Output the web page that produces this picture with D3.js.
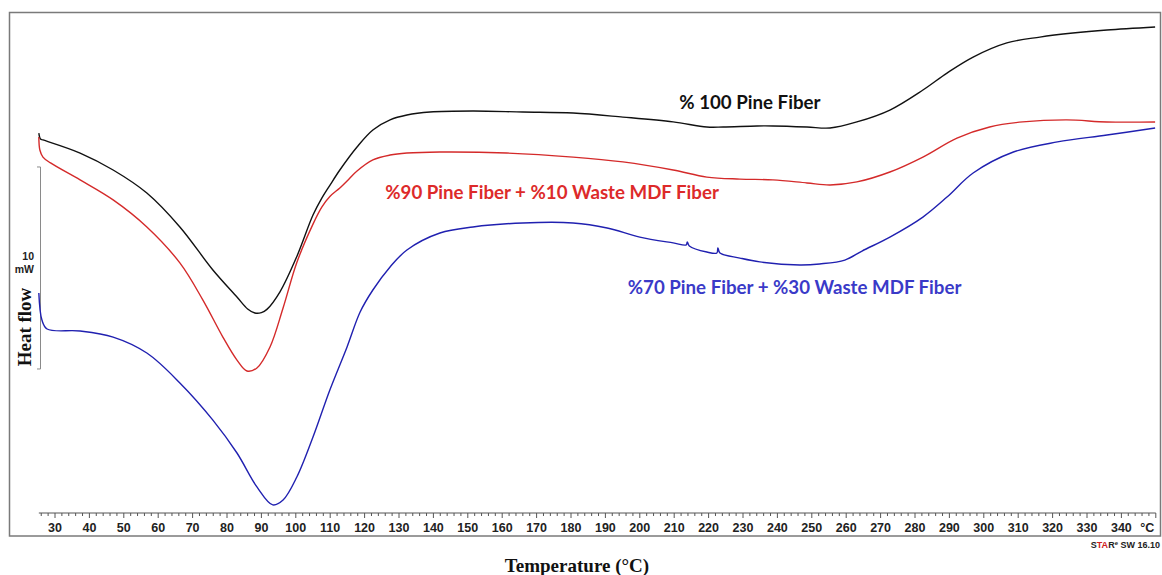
<!DOCTYPE html>
<html>
<head>
<meta charset="utf-8">
<script src="https://cdn.jsdelivr.net/npm/d3@7"></script>
<style>
  body { margin: 0; background: #fff; }
  svg { display: block; }
</style>
</head>
<body>
<div id="chart"></div>
<script>
// DSC curves, heat flow in mW (offset baselines as in the instrument plot)
var pineTemp = [25.3, 25.8, 26.5, 37.3, 46.9, 56.7, 66.3, 75.9, 82.9, 86.0, 88.1, 90.0, 91.6, 95.4, 100.3, 105.0, 107.6, 109.9, 112.8, 117.8, 122.4, 127.4, 132.3, 139.0, 151.5, 166.0, 180.6, 195.1, 209.7, 219.5, 224.2, 234.1, 238.7, 248.6, 255.3, 263.1, 272.7, 282.3, 289.3, 296.9, 306.7, 316.3, 325.9, 335.8, 349.8];
var pineFlow = [18.81, 18.51, 18.47, 17.82, 16.98, 15.84, 14.16, 12.03, 10.69, 10.10, 9.90, 9.92, 10.08, 10.95, 12.70, 14.75, 15.60, 16.22, 16.98, 18.12, 18.96, 19.46, 19.70, 19.85, 19.90, 19.85, 19.80, 19.60, 19.36, 19.11, 19.11, 19.16, 19.16, 19.11, 19.06, 19.36, 19.95, 20.94, 21.78, 22.57, 23.27, 23.56, 23.76, 23.91, 24.06];

var mix90Temp = [25.3, 25.6, 26.5, 28.7, 37.3, 46.9, 56.7, 66.3, 73.0, 78.8, 82.9, 85.8, 88.7, 92.5, 96.3, 100.3, 105.0, 107.6, 109.9, 112.8, 114.9, 117.8, 122.4, 127.4, 132.3, 141.9, 161.3, 180.6, 195.1, 209.7, 219.5, 229.1, 238.7, 248.6, 255.3, 263.1, 272.7, 282.3, 292.2, 301.7, 311.3, 324.1, 335.8, 349.8];
var mix90Flow = [18.61, 17.97, 17.62, 17.33, 16.49, 15.50, 14.16, 12.38, 10.54, 8.71, 7.57, 7.03, 7.18, 8.22, 10.15, 12.40, 14.30, 15.15, 15.67, 16.09, 16.44, 16.93, 17.48, 17.72, 17.82, 17.87, 17.82, 17.62, 17.38, 16.98, 16.63, 16.53, 16.49, 16.34, 16.24, 16.39, 16.88, 17.62, 18.56, 19.11, 19.36, 19.46, 19.36, 19.36];

var mix70Temp = [25.3, 26.2, 27.7, 37.3, 46.9, 56.7, 66.3, 75.9, 82.9, 88.7, 93.3, 96.3, 100.3, 105.0, 109.9, 114.9, 118.7, 122.4, 127.4, 132.3, 141.9, 151.5, 166.0, 180.6, 190.5, 200.0, 209.7, 213.5, 213.8, 214.4, 219.5, 222.4, 222.7, 223.3, 229.1, 234.9, 246.5, 252.3, 259.6, 264.6, 272.7, 282.3, 289.3, 296.9, 308.6, 321.4, 335.8, 349.8];
var mix70Flow = [10.89, 9.55, 9.11, 9.01, 8.71, 7.92, 6.44, 4.60, 2.97, 1.29, 0.40, 0.64, 1.78, 3.76, 6.09, 8.22, 9.95, 11.04, 12.18, 13.02, 13.86, 14.16, 14.36, 14.36, 14.11, 13.66, 13.37, 13.27, 13.42, 13.22, 12.92, 12.87, 13.12, 12.87, 12.62, 12.43, 12.28, 12.33, 12.52, 12.97, 13.66, 14.65, 15.64, 16.83, 17.87, 18.37, 18.71, 19.06];

var seriesNames = ["% 100 Pine Fiber", "%90 Pine Fiber + %10 Waste MDF Fiber", "%70 Pine Fiber + %30 Waste MDF Fiber"];
var tickValues = [30, 40, 50, 60, 70, 80, 90, 100, 110, 120, 130, 140, 150, 160, 170, 180, 190, 200, 210, 220, 230, 240, 250, 260, 270, 280, 290, 300, 310, 320, 330, 340];
var scaleBarMw = [7.13, 17.13]; // 10 mW bar

var width = 1162, height = 575;

var x = d3.scaleLinear().domain([30, 340]).range([55, 1121.4]);
var y = d3.scaleLinear().domain([0, 10]).range([513, 311]);

var svg = d3.select("#chart").append("svg")
  .attr("width", width)
  .attr("height", height);

// frame
svg.append("rect")
  .attr("x", 9.5).attr("y", 12.5)
  .attr("width", 1151).attr("height", 523.5)
  .attr("fill", "none")
  .attr("stroke", "#7a7a7a")
  .attr("stroke-width", 1.5);

// temperature axis
var minorTicks = d3.range(26, 351, 2);
var axisG = svg.append("g").attr("transform", "translate(0,513)");
axisG.append("line")
  .attr("x1", x(25.3)).attr("x2", x(350))
  .attr("stroke", "#555").attr("stroke-width", 1);
axisG.selectAll("line.minor")
  .data(minorTicks)
  .enter().append("line")
  .attr("class", "minor")
  .attr("x1", function(d) { return x(d); })
  .attr("x2", function(d) { return x(d); })
  .attr("y1", 0)
  .attr("y2", function(d) { return d % 10 == 0 ? 5 : 3; })
  .attr("stroke", "#555").attr("stroke-width", 1);
axisG.selectAll("text.tick")
  .data(tickValues)
  .enter().append("text")
  .attr("class", "tick")
  .attr("x", function(d) { return x(d); })
  .attr("y", 19)
  .attr("text-anchor", "middle")
  .style("font", "bold 12.5px 'Liberation Sans', Arial, sans-serif")
  .attr("fill", "#222")
  .text(function(d) { return d; });
axisG.append("text")
  .attr("x", x(347.5)).attr("y", 19)
  .attr("text-anchor", "middle")
  .style("font", "bold 12.5px 'Liberation Sans', Arial, sans-serif")
  .attr("fill", "#222")
  .text("°C");

// STAR SW footer
var star = svg.append("text")
  .attr("x", 1160).attr("y", 548)
  .attr("text-anchor", "end")
  .style("font", "bold 9px 'Liberation Sans', Arial, sans-serif")
  .attr("fill", "#222");
star.append("tspan").text("S");
star.append("tspan").attr("fill", "#d02020").text("TA");
star.append("tspan").text("R");
star.append("tspan").attr("font-size", "6px").attr("dy", -3).text("e");
star.append("tspan").attr("dy", 3).text(" SW 16.10");

// scale bar
var barG = svg.append("g").attr("stroke", "#8a8a8a").attr("stroke-width", 1);
barG.append("line")
  .attr("x1", 40.5).attr("x2", 40.5)
  .attr("y1", y(scaleBarMw[1])).attr("y2", y(scaleBarMw[0]));
scaleBarMw.forEach(function(v) {
  barG.append("line")
    .attr("x1", 37).attr("x2", 40.5)
    .attr("y1", y(v)).attr("y2", y(v));
});
svg.append("text")
  .attr("x", 34).attr("y", 260)
  .attr("text-anchor", "end")
  .style("font", "bold 10.5px 'Liberation Sans', Arial, sans-serif")
  .attr("fill", "#222")
  .text("10");
svg.append("text")
  .attr("x", 34).attr("y", 273)
  .attr("text-anchor", "end")
  .style("font", "bold 10.5px 'Liberation Sans', Arial, sans-serif")
  .attr("fill", "#222")
  .text("mW");
svg.append("text")
  .attr("transform", "translate(31,327) rotate(-90)")
  .attr("text-anchor", "middle")
  .style("font", "bold 19px 'Liberation Serif', 'Times New Roman', serif")
  .attr("fill", "#111")
  .text("Heat flow");

svg.append("text")
  .attr("x", 577).attr("y", 572)
  .attr("text-anchor", "middle")
  .style("font", "bold 19px 'Liberation Serif', 'Times New Roman', serif")
  .attr("fill", "#111")
  .text("Temperature (°C)");

// curves
var line = d3.line()
  .x(function(d) { return x(d[0]); })
  .y(function(d) { return y(d[1]); })
  .curve(d3.curveCatmullRom.alpha(0.5));

var curves = [
  { t: pineTemp, v: pineFlow, color: "#111111" },
  { t: mix90Temp, v: mix90Flow, color: "#d42a2a" },
  { t: mix70Temp, v: mix70Flow, color: "#2020b0" }
];

curves.forEach(function(c) {
  svg.append("path")
    .datum(d3.zip(c.t, c.v))
    .attr("d", line)
    .attr("fill", "none")
    .attr("stroke", c.color)
    .attr("stroke-width", 1.4);
});

// series labels
var labels = [
  { text: seriesNames[0], t: 232, v: 20.0, color: "#111111" },
  { text: seriesNames[1], t: 174.5, v: 15.55, color: "#dd2a2a" },
  { text: seriesNames[2], t: 245, v: 10.85, color: "#3a3ac8" }
];
svg.selectAll("text.series")
  .data(labels)
  .enter().append("text")
  .attr("class", "series")
  .attr("x", function(d) { return x(d.t); })
  .attr("y", function(d) { return y(d.v); })
  .attr("text-anchor", "middle")
  .style("font", "bold 18.7px Lato, 'Open Sans', sans-serif")
  .attr("fill", function(d) { return d.color; })
  .text(function(d) { return d.text; });
</script>
</body>
</html>
